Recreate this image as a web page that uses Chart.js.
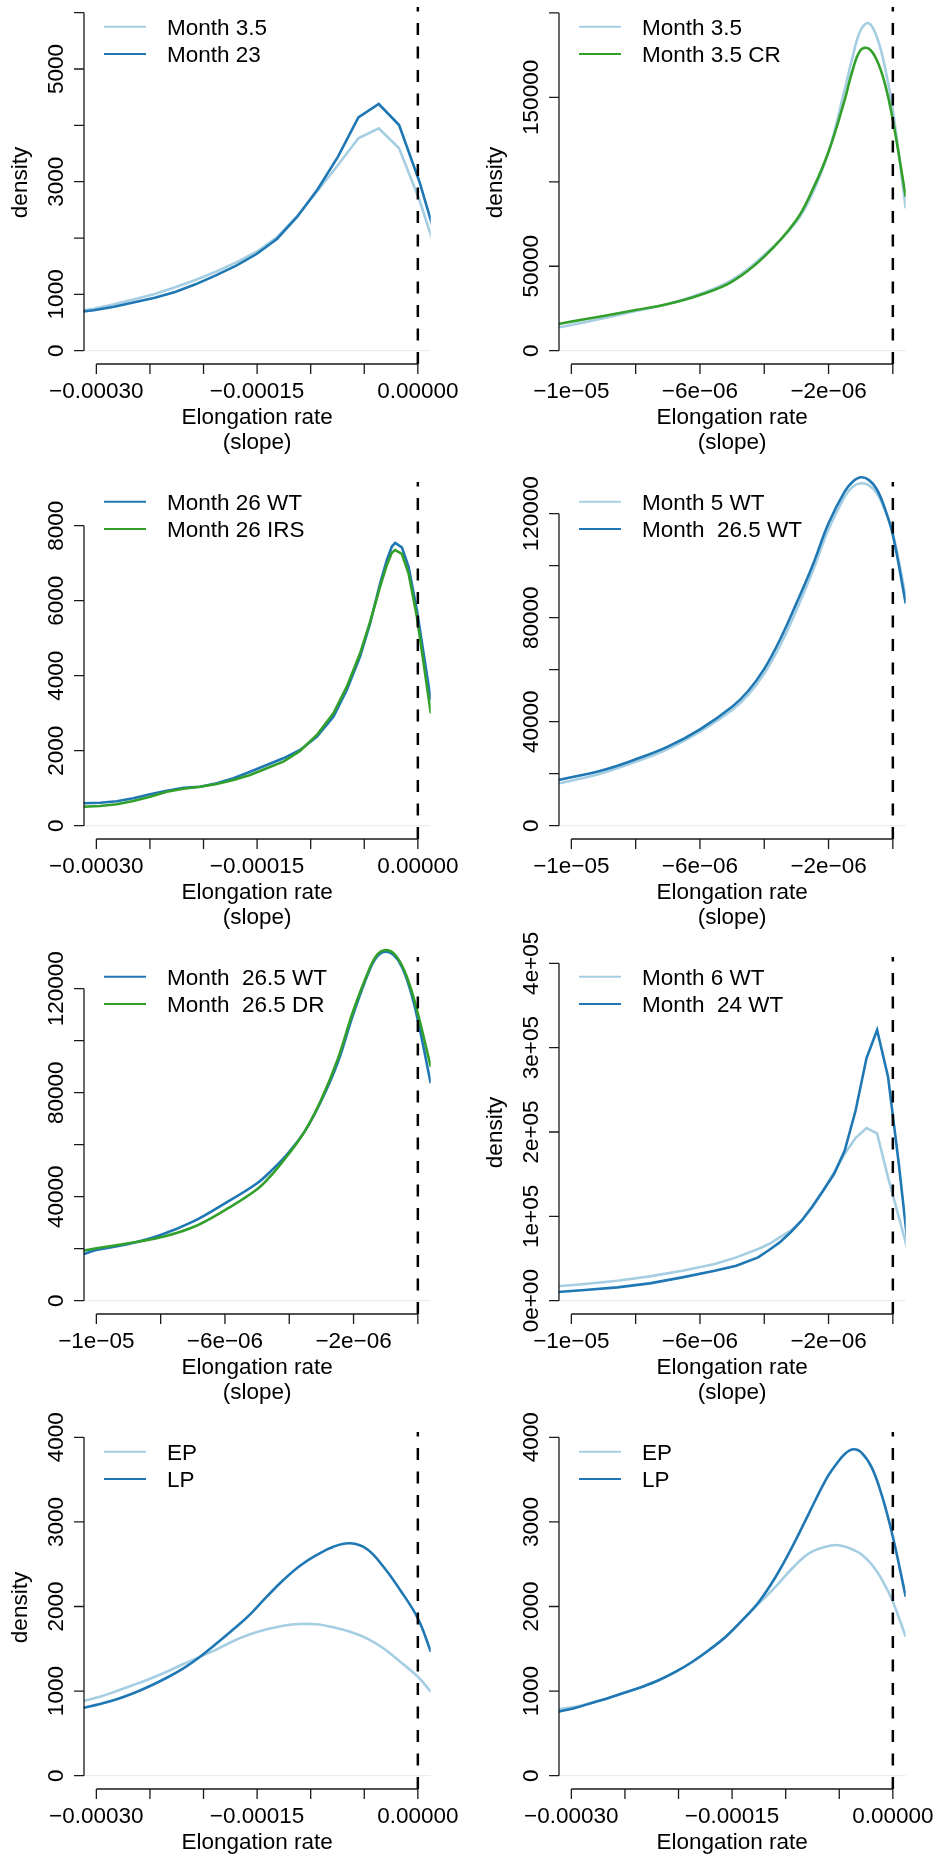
<!DOCTYPE html>
<html lang="en">

<head>
    <meta charset="UTF-8">
    <title>Elongation rate densities</title>
    <script src="https://cdn.jsdelivr.net/npm/chart.js"></script>
    <style>
        body {
            margin: 0;
            background: #fff;
            width: 938px;
            height: 1854px;
            overflow: hidden;
            position: relative;
        }
        canvas {
            position: absolute;
        }
    </style>
</head>

<body>
    <canvas id="p1" width="469" height="505" style="left:0;top:-30px"></canvas>
    <canvas id="p2" width="463" height="505" style="left:475px;top:-30px"></canvas>
    <canvas id="p3" width="469" height="505" style="left:0;top:445px"></canvas>
    <canvas id="p4" width="463" height="505" style="left:475px;top:445px"></canvas>
    <canvas id="p5" width="469" height="505" style="left:0;top:920px"></canvas>
    <canvas id="p6" width="463" height="505" style="left:475px;top:920px"></canvas>
    <canvas id="p7" width="469" height="505" style="left:0;top:1395px"></canvas>
    <canvas id="p8" width="463" height="505" style="left:475px;top:1395px"></canvas>

    <script>
        const LIGHT = '#a6cee3';
        const BLUE = '#1f78b4';
        const GREEN = '#33a02c';

        // x axis ticks and labels (two slope scales)
        const wideTicks = [-300e-6, -250e-6, -200e-6, -150e-6, -100e-6, -50e-6, 0];
        const wideLabels = ['\u22120.00030', '', '', '\u22120.00015', '', '', '0.00000'];
        const narrowTicks = [-10e-6, -8e-6, -6e-6, -4e-6, -2e-6, 0];
        const narrowLabels = ['\u22121e\u221205', '', '\u22126e\u221206', '', '\u22122e\u221206', ''];

        // panel 1: Month 3.5 vs Month 23
        const p1X = [-321.5e-6, -302.5e-6, -283.5e-6, -264.5e-6, -245.5e-6, -226.5e-6, -207.5e-6, -188.5e-6, -169.5e-6, -150.5e-6,
            -131.5e-6, -112.5e-6, -93.5e-6, -74.5e-6, -55.5e-6, -36.5e-6, -17.5e-6, 1.5e-6, 20.5e-6];
        const p1Month35 = [687, 746, 823, 912, 1006, 1125, 1255, 1402, 1569, 1757, 2013, 2391, 2840, 3296, 3770, 3948, 3592, 2675, 1562];
        const p1Month23 = [675, 717, 781, 859, 941, 1042, 1178, 1338, 1509, 1716, 1983, 2379, 2865, 3444, 4143, 4379, 4006, 3000, 1775];
        const p1YTicks = [0, 1000, 2000, 3000, 4000, 5000, 6000];
        const p1YLabels = ['0', '1000', '', '3000', '', '5000', ''];

        // panel 2: Month 3.5 vs Month 3.5 CR
        const p2X = [-10.4e-6, -10e-6, -9e-6, -8e-6, -7e-6, -6e-6, -5e-6, -4e-6, -3e-6, -2.5e-6, -2e-6, -1.5e-6, -1.25e-6, -1e-6,
            -0.75e-6, -0.5e-6, -0.25e-6, 0, 0.4e-6];
        const p2Month35 = [13850, 15200, 19200, 23500, 27650, 33600, 41900, 56700, 76400, 93200, 117800, 154400, 174100, 189900,
            193900, 185900, 168200, 142500, 84300];
        const p2Month35CR = [15800, 17200, 20550, 24100, 27650, 33000, 40900, 55700, 77400, 95200, 117800, 148400, 166200, 178000,
            178900, 172100, 158300, 136600, 91200];
        const p2YTicks = [0, 50000, 100000, 150000, 200000];
        const p2YLabels = ['0', '50000', '', '150000', ''];

        // panel 3: Month 26 WT vs Month 26 IRS
        const p3X = [-312e-6, -296.6e-6, -281.0e-6, -265.5e-6, -249.9e-6, -234.3e-6, -218.8e-6, -203.2e-6, -187.6e-6, -172.1e-6,
            -156.5e-6, -141.0e-6, -125.5e-6, -109.9e-6, -94.3e-6, -78.8e-6, -66.3e-6, -53.9e-6, -44.5e-6, -35.2e-6,
            -28.9e-6, -24.3e-6, -21.2e-6, -14.9e-6, -8.7e-6, -0.9e-6, 12.1e-6];
        const p3WT = [597, 613, 651, 731, 837, 933, 1013, 1040, 1131, 1264, 1440, 1619, 1797, 2019, 2373, 2907, 3619, 4507, 5397, 6464,
            7086, 7440, 7540, 7424, 6907, 5752, 3352];
        const p3IRS = [507, 525, 571, 659, 773, 907, 987, 1040, 1112, 1219, 1352, 1530, 1707, 1992, 2419, 2997, 3707, 4596, 5441, 6373,
            6952, 7280, 7350, 7245, 6731, 5573, 2997];
        const p3YTicks = [0, 2000, 4000, 6000, 8000];
        const p3YLabels = ['0', '2000', '4000', '6000', '8000'];

        // panel 4: Month 5 WT vs Month 26.5 WT
        const p4X = [-10.4e-6, -10e-6, -9e-6, -8e-6, -7e-6, -6e-6, -5e-6, -4.5e-6, -4e-6, -3.5e-6, -3e-6, -2.5e-6, -2e-6, -1.5e-6,
            -1.25e-6, -1e-6, -0.75e-6, -0.5e-6, -0.25e-6, 0, 0.4e-6];
        const p4Month5WT = [16300, 17300, 20400, 24600, 29500, 36200, 44500, 50300, 58500, 69500, 82900, 97700, 114000, 126500,
            130400, 131700, 131000, 127800, 121400, 112500, 88100];
        const p4Month265WT = [17580, 18610, 21420, 25530, 30390, 37070, 45770, 51800, 60300, 71800, 85500, 100000, 116300, 128500,
            132300, 134000, 133000, 129400, 122100, 111800, 85500];
        const p4YTicks = [0, 20000, 40000, 60000, 80000, 100000, 120000];
        const p4YLabels = ['0', '', '40000', '', '80000', '', '120000'];

        // panel 5: Month 26.5 WT vs Month 26.5 DR
        const p5X = [-10.4e-6, -10e-6, -9e-6, -8e-6, -7e-6, -6e-6, -5e-6, -4.5e-6, -4e-6, -3.5e-6, -3e-6, -2.5e-6, -2e-6, -1.5e-6,
            -1.25e-6, -1e-6, -0.75e-6, -0.5e-6, -0.25e-6, 0, 0.4e-6];
        const p5WT = [17960, 19500, 21800, 25270, 30390, 37460, 45150, 50700, 57300, 65500, 77000, 91300, 110500, 127200,
            132600, 134200, 132900, 128500, 120100, 107900, 83600];
        const p5DR = [19230, 20150, 22080, 24380, 28230, 34880, 42840, 49100, 56700, 65500, 77500, 92600, 111800, 127800,
            133300, 134900, 133600, 129100, 121400, 110500, 90000];
        const p5YTicks = [0, 20000, 40000, 60000, 80000, 100000, 120000];
        const p5YLabels = ['0', '', '40000', '', '80000', '', '120000'];

        // panel 6: Month 6 WT vs Month 24 WT
        const p6X = [-10.59e-6, -9.58e-6, -8.57e-6, -7.56e-6, -6.55e-6, -5.54e-6, -4.87e-6, -4.19e-6, -3.85e-6, -3.52e-6, -3.18e-6,
            -2.84e-6, -2.51e-6, -2.17e-6, -1.83e-6, -1.50e-6, -1.16e-6, -0.82e-6, -0.49e-6, -0.15e-6, 0.19e-6, 0.52e-6];
        const p6Month6WT = [16600, 19760, 23710, 28850, 35570, 43470, 51370, 61260, 67190, 75090, 82990,
            94840, 110650, 130400, 152100, 173900, 192900, 204700, 198300, 146200, 98750, 51400];
        const p6Month24WT = [9880, 12650, 15800, 20550, 27660, 35570, 41490, 51370, 60060, 69150, 81000,
            94840, 111440, 130400, 150170, 177800, 225200, 287300, 320900, 265600, 160900, 47000];
        const p6YTicks = [0, 1e5, 2e5, 3e5, 4e5];
        const p6YLabels = ['0e+00', '1e+05', '2e+05', '3e+05', '4e+05'];

        // panel 7: EP vs LP
        const p7X = [-312e-6, -296.6e-6, -281.0e-6, -265.5e-6, -249.9e-6, -234.3e-6, -218.8e-6, -203.2e-6, -187.6e-6, -172.1e-6,
            -156.5e-6, -141.0e-6, -125.5e-6, -109.9e-6, -94.3e-6, -78.8e-6, -63.2e-6, -47.6e-6, -32.1e-6, -16.5e-6, 0, 12.1e-6];
        const p7EP = [883, 934, 1001, 1072, 1147, 1229, 1320, 1407, 1494, 1592, 1671, 1730, 1773, 1793, 1790, 1754, 1702, 1624, 1506, 1347, 1170, 993];
        const p7LP = [804, 847, 903, 974, 1060, 1158, 1269, 1407, 1565, 1730, 1907, 2116, 2313, 2482, 2609, 2707, 2747, 2680, 2470, 2195, 1860, 1466];
        const p7YTicks = [0, 1000, 2000, 3000, 4000];
        const p7YLabels = ['0', '1000', '2000', '3000', '4000'];

        // panel 8: EP vs LP
        const p8X = [-312e-6, -295.7e-6, -280.2e-6, -264.6e-6, -249.1e-6, -233.6e-6, -218.0e-6, -202.5e-6, -187.0e-6, -171.5e-6,
            -155.9e-6, -140.4e-6, -124.9e-6, -109.3e-6, -93.8e-6, -78.3e-6, -62.7e-6, -53.4e-6, -44.1e-6, -36.3e-6,
            -28.6e-6, -19.3e-6, -9.9e-6, 0, 12e-6];
        const p8EP = [785, 816, 863, 922, 986, 1052, 1131, 1229, 1347, 1486, 1643, 1840, 2038, 2234, 2452, 2628, 2707, 2727, 2707, 2665,
            2609, 2490, 2313, 2057, 1643];
        const p8LP = [757, 804, 863, 922, 986, 1052, 1131, 1229, 1347, 1486, 1643, 1840, 2057, 2352, 2707, 3101, 3495, 3672, 3811, 3858,
            3811, 3633, 3298, 2825, 2116];
        const p8YTicks = [0, 1000, 2000, 3000, 4000];
        const p8YLabels = ['0', '1000', '2000', '3000', '4000'];

        const FONT = '22.5px "Liberation Sans", Arial, Helvetica, sans-serif';

        // base-graphics look: detached axes, rotated y labels, dashed line at zero, plain legend
        const rAxes = {
            id: 'rAxes',
            beforeDatasetsDraw(chart) {
                const { ctx, chartArea: a, scales: { y } } = chart;
                const y0 = y.getPixelForValue(0);
                ctx.save();
                ctx.strokeStyle = '#e9e9e9';
                ctx.lineWidth = 1;
                ctx.beginPath();
                ctx.moveTo(a.left, y0);
                ctx.lineTo(a.right, y0);
                ctx.stroke();
                ctx.restore();
            },
            afterDatasetsDraw(chart, args, o) {
                const { ctx, chartArea: a, scales: { x, y } } = chart;
                const ax = a.left + 0.5;
                const by = a.bottom;
                ctx.save();

                // zero slope reference
                const xz = x.getPixelForValue(0);
                ctx.strokeStyle = '#000';
                ctx.lineWidth = 2.5;
                ctx.setLineDash([12, 11.5]);
                ctx.beginPath();
                ctx.moveTo(xz, by);
                ctx.lineTo(xz, a.top + 3);
                ctx.stroke();
                ctx.setLineDash([]);

                ctx.strokeStyle = '#1a1a1a';
                ctx.lineWidth = 1.3;
                ctx.fillStyle = '#000';
                ctx.font = FONT;

                // y axis
                const yp = o.yTicks.map(v => y.getPixelForValue(v));
                ctx.beginPath();
                ctx.moveTo(ax, yp[0]);
                ctx.lineTo(ax, yp[yp.length - 1]);
                yp.forEach(p => { ctx.moveTo(ax, p); ctx.lineTo(ax - 10, p); });
                ctx.stroke();
                ctx.textAlign = 'center';
                ctx.textBaseline = 'alphabetic';
                yp.forEach((p, i) => {
                    if (!o.yLabels[i]) return;
                    ctx.save();
                    ctx.translate(ax - 21, p);
                    ctx.rotate(-Math.PI / 2);
                    ctx.fillText(o.yLabels[i], 0, 0);
                    ctx.restore();
                });

                // x axis
                const xp = o.xTicks.map(v => x.getPixelForValue(v));
                ctx.beginPath();
                ctx.moveTo(xp[0], by);
                ctx.lineTo(xp[xp.length - 1], by);
                xp.forEach(p => { ctx.moveTo(p, by); ctx.lineTo(p, by + 10); });
                ctx.stroke();
                xp.forEach((p, i) => {
                    if (o.xLabels[i]) ctx.fillText(o.xLabels[i], p, by + 34);
                });

                // axis titles
                const cx = (a.left + a.right) / 2;
                ctx.fillText('Elongation rate', cx, by + 60);
                ctx.fillText('(slope)', cx, by + 84.5);
                if (o.ylab) {
                    ctx.save();
                    ctx.translate(ax - 57, (a.top + a.bottom) / 2 - 1.5);
                    ctx.rotate(-Math.PI / 2);
                    ctx.fillText('density', 0, 0);
                    ctx.restore();
                }

                // legend
                ctx.textAlign = 'left';
                chart.data.datasets.forEach((ds, i) => {
                    const ly = by - 337.3 + 27.3 * i;
                    ctx.strokeStyle = ds.borderColor;
                    ctx.lineWidth = 2;
                    ctx.beginPath();
                    ctx.moveTo(ax + 20, ly);
                    ctx.lineTo(ax + 62, ly);
                    ctx.stroke();
                    ctx.fillText(ds.label, ax + 83, ly + 8);
                });
                ctx.restore();
            }
        };

        const WIDE = [-312e-6, 12e-6];
        const NARROW = [-10.4e-6, 0.4e-6];

        const panels = [
            { id: 'p1', x: p1X, xr: WIDE, xt: wideTicks, xl: wideLabels, yr: [-236, 6154], yt: p1YTicks, yl: p1YLabels, ylab: true, smooth: false,
              series: [['Month 3.5', LIGHT, p1Month35], ['Month 23', BLUE, p1Month23]] },
            { id: 'p2', x: p2X, xr: NARROW, xt: narrowTicks, xl: narrowLabels, yr: [-7875, 205280], yt: p2YTicks, yl: p2YLabels, ylab: true, smooth: true,
              series: [['Month 3.5', LIGHT, p2Month35], ['Month 3.5 CR', GREEN, p2Month35CR]] },
            { id: 'p3', x: p3X, xr: WIDE, xt: wideTicks, xl: wideLabels, yr: [-355, 9245], yt: p3YTicks, yl: p3YLabels, ylab: false, smooth: false,
              series: [['Month 26 WT', BLUE, p3WT], ['Month 26 IRS', GREEN, p3IRS]] },
            { id: 'p4', x: p4X, xr: NARROW, xt: narrowTicks, xl: narrowLabels, yr: [-5115, 133340], yt: p4YTicks, yl: p4YLabels, ylab: false, smooth: true,
              series: [['Month 5 WT', LIGHT, p4Month5WT], ['Month  26.5 WT', BLUE, p4Month265WT]] },
            { id: 'p5', x: p5X, xr: NARROW, xt: narrowTicks, xl: narrowLabels, yr: [-5115, 133340], yt: p5YTicks, yl: p5YLabels, ylab: false, smooth: true,
              series: [['Month  26.5 WT', BLUE, p5WT], ['Month  26.5 DR', GREEN, p5DR]] },
            { id: 'p6', x: p6X, xr: NARROW, xt: narrowTicks, xl: narrowLabels, yr: [-15767, 411013], yt: p6YTicks, yl: p6YLabels, ylab: true, smooth: false,
              series: [['Month 6 WT', LIGHT, p6Month6WT], ['Month  24 WT', BLUE, p6Month24WT]] },
            { id: 'p7', x: p7X, xr: WIDE, xt: wideTicks, xl: wideLabels, yr: [-157, 4098], yt: p7YTicks, yl: p7YLabels, ylab: true, smooth: true,
              series: [['EP', LIGHT, p7EP], ['LP', BLUE, p7LP]] },
            { id: 'p8', x: p8X, xr: WIDE, xt: wideTicks, xl: wideLabels, yr: [-157, 4098], yt: p8YTicks, yl: p8YLabels, ylab: false, smooth: true,
              series: [['EP', LIGHT, p8EP], ['LP', BLUE, p8LP]] }
        ];

        panels.forEach(p => {
            const canvas = document.getElementById(p.id);
            const n = p.series.length;
            new Chart(canvas, {
                type: 'line',
                data: {
                    datasets: p.series.map(([label, color, ys], i) => ({
                        label: label,
                        data: p.x.map((xv, j) => ({ x: xv, y: ys[j] })),
                        borderColor: color,
                        borderWidth: 2.6,
                        pointRadius: 0,
                        fill: false,
                        tension: p.smooth ? 0.4 : 0,
                        order: n - 1 - i,
                        clip: { left: 0, top: 10, right: 0, bottom: 0 }
                    }))
                },
                options: {
                    responsive: false,
                    animation: false,
                    events: [],
                    layout: {
                        // plot region sits 364px below the cell top, 30px extra room above for top tick labels
                        padding: { left: 83.5, top: 34, right: canvas.width - 430.7, bottom: canvas.height - 394 }
                    },
                    scales: {
                        x: { type: 'linear', display: false, min: p.xr[0], max: p.xr[1] },
                        y: { type: 'linear', display: false, min: p.yr[0], max: p.yr[1] }
                    },
                    plugins: {
                        legend: { display: false },
                        tooltip: { enabled: false },
                        rAxes: { xTicks: p.xt, xLabels: p.xl, yTicks: p.yt, yLabels: p.yl, ylab: p.ylab }
                    }
                },
                plugins: [rAxes]
            });
        });
    </script>
</body>

</html>
